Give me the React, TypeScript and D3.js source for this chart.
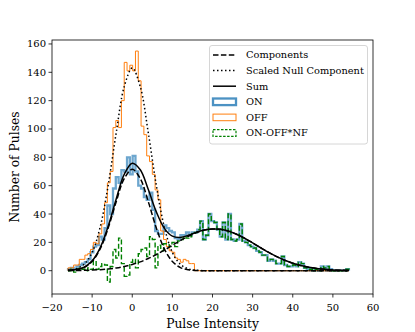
import React from 'react';
import * as d3 from 'd3';

// ---- data ----
const BIN_START = -16;
const BIN_WIDTH = 0.7;

const ON_COUNTS = [
  1, 2, 1, 3, 4, 5, 6, 8, 13, 17,
  18, 24, 22, 30, 46, 40, 58, 66, 62, 71,
  70, 80, 68, 81, 70, 60, 58, 52, 50, 55,
  43, 28, 26, 26, 32, 30, 28, 27, 23, 22,
  25, 25, 27, 25, 27, 27, 29, 35, 22, 25,
  40, 35, 34, 29, 24, 34, 22, 40, 22, 21,
  22, 33, 21, 20, 18, 17, 16, 14, 13, 11,
  11, 7, 8, 7, 5, 5, 10, 4, 3, 3,
  4, 3, 6, 5, 2, 1, 1, 0, 1, 0,
  3, 2, 3, 1, 0, 0, 0, 0, 0, 1,
];

const OFF_COUNTS = [
  2, 2, 4, 4, 8, 8, 11, 12, 15, 20,
  19, 26, 33, 48, 62, 70, 101, 106, 101, 120,
  147, 141, 145, 141, 155, 134, 102, 96, 81, 77,
  68, 57, 50, 28, 22, 17, 14, 13, 9, 8,
  6, 8, 7, 5, 5, 0, 0, 0, 0, 0,
  0, 0, 0, 0, 0, 0, 0, 0, 0, 0,
  0, 0, 0, 0, 0, 0, 0, 0, 0, 0,
  0, 0, 0, 0, 0, 0, 0, 0, 0, 0,
  0, 0, 0, 0, 0, 0, 0, 0, 0, 0,
  0, 0, 0, 0, 0, 0, 0, 0, 0, 0,
];

const DIFF_COUNTS = [
  0, 1, -1, 1, 2, 1, 0, 2, 1, 7,
  1, 3, 5, 4, -8, 3, 15, 9, 23, 5,
  -4, -3, 6, 8, 2, 12, 15, 16, 10, 24,
  22, 2, 18, 14, 19, 19, 17, 20, 17, 21,
  22, 24, 23, 24, 26, 27, 29, 35, 22, 25,
  40, 35, 34, 29, 24, 34, 22, 40, 22, 21,
  22, 33, 21, 20, 18, 17, 16, 14, 13, 11,
  11, 7, 8, 7, 5, 5, 10, 4, 3, 3,
  4, 3, 6, 5, 2, 1, 1, 0, 1, 0,
  3, 2, 3, 1, 0, 0, 0, 0, 0, 1,
];

const CURVE_X = [
  -16, -14, -12, -10, -8, -6, -4, -2, 0, 2, 4, 6, 8, 10, 12, 14, 16, 18,
  20, 22, 24, 26, 28, 30, 32, 34, 36, 38, 40, 42, 44, 46, 48, 50, 52, 54,
];
const NULL_SCALED = [
  0.3, 1.3, 4.5, 12.9, 30.7, 60.2, 97.3, 129.9, 143, 129.9, 97.3, 60.2, 30.7, 12.9, 4.5, 1.3, 0.3, 0,
  0, 0, 0, 0, 0, 0, 0, 0, 0, 0, 0, 0, 0, 0, 0, 0, 0, 0,
];
const COMP_NULL = [
  0.15, 0.65, 2.2, 6.5, 15.4, 30.1, 48.7, 65.0, 71.5, 65.0, 48.7, 30.1, 15.4, 6.5, 2.2, 0.65, 0.15, 0,
  0, 0, 0, 0, 0, 0, 0, 0, 0, 0, 0, 0, 0, 0, 0, 0, 0, 0,
];
const COMP_PULSE = [
  0.07, 0.13, 0.25, 0.43, 0.74, 1.22, 1.94, 2.96, 4.39, 6.25, 8.58, 11.4, 14.5, 17.9, 21.3, 24.3, 26.9, 28.7,
  29.47, 29.2, 27.9, 25.7, 22.9, 19.6, 16.2, 12.9, 9.9, 7.4, 5.3, 3.6, 2.4, 1.55, 0.96, 0.57, 0.33, 0.18,
];

const X_TICKS = [-20, -10, 0, 10, 20, 30, 40, 50, 60];
const Y_TICKS = [0, 20, 40, 60, 80, 100, 120, 140, 160];
const LEGEND_LABELS = ['Components', 'Scaled Null Component', 'Sum', 'ON', 'OFF', 'ON-OFF*NF'];

// ---- layout ----
const W = 415;
const H = 332;
const LEFT = 52;
const RIGHT = 373;
const TOP = 40;
const BOTTOM = 294;
const FONT = '"DejaVu Serif", serif';

const x = d3.scaleLinear().domain([-20, 60]).range([LEFT, RIGHT]);
const y = d3.scaleLinear().domain([-16.45, 162.8]).range([BOTTOM, TOP]);

function stepPoints(counts: number[]): [number, number][] {
  const pts: [number, number][] = [[BIN_START, 0]];
  counts.forEach((c, i) => {
    const x0 = BIN_START + i * BIN_WIDTH;
    pts.push([x0, c], [x0 + BIN_WIDTH, c]);
  });
  pts.push([BIN_START + counts.length * BIN_WIDTH, 0]);
  return pts;
}

const stepLine = d3
  .line<[number, number]>()
  .x((d) => x(d[0]))
  .y((d) => y(d[1]));

const smoothLine = d3
  .line<[number, number]>()
  .x((d) => x(d[0]))
  .y((d) => y(d[1]))
  .curve(d3.curveCatmullRom.alpha(0.5));

const fmt = (v: number) => (v < 0 ? '\u2212' + Math.abs(v) : String(v));

export default function App() {
  const nullPts = CURVE_X.map((xv, i) => [xv, NULL_SCALED[i]] as [number, number]);
  const c1Pts = CURVE_X.map((xv, i) => [xv, COMP_NULL[i]] as [number, number]);
  const c2Pts = CURVE_X.map((xv, i) => [xv, COMP_PULSE[i]] as [number, number]);
  const sumPts = CURVE_X.map((xv, i) => [xv, COMP_NULL[i] + COMP_PULSE[i]] as [number, number]);

  const legX0 = 213;
  const legX1 = 236;
  const rowY = (i: number) => 55 + 15.6 * i;

  return (
    <svg
      width={W}
      height={H}
      style={{ position: 'absolute', left: 0, top: 0, background: '#fff' }}
      fontFamily={FONT}
    >
      <rect x={0} y={0} width={W} height={H} fill="#fff" />
      {/* histograms */}
      <path d={stepLine(stepPoints(ON_COUNTS)) || ''} fill="none" stroke="#1f77b4" strokeWidth={2.3} strokeOpacity={0.65} />
      <path d={stepLine(stepPoints(OFF_COUNTS)) || ''} fill="none" stroke="#ff7f0e" strokeWidth={1} />
      <path d={stepLine(stepPoints(DIFF_COUNTS)) || ''} fill="none" stroke="#008000" strokeWidth={1.4} strokeDasharray="5,2.5" />
      {/* model curves */}
      <path d={smoothLine(c1Pts) || ''} fill="none" stroke="#000" strokeWidth={1.5} strokeDasharray="5.5,2.4" />
      <path d={smoothLine(c2Pts) || ''} fill="none" stroke="#000" strokeWidth={1.5} strokeDasharray="5.5,2.4" />
      <path d={smoothLine(nullPts) || ''} fill="none" stroke="#000" strokeWidth={1.5} strokeDasharray="1.5,2.5" />
      <path d={smoothLine(sumPts) || ''} fill="none" stroke="#000" strokeWidth={1.5} />

      {/* frame */}
      <rect x={LEFT} y={TOP} width={RIGHT - LEFT} height={BOTTOM - TOP} fill="none" stroke="#000" strokeWidth={0.8} />

      {/* x ticks */}
      {X_TICKS.map((t) => (
        <g key={'x' + t}>
          <line x1={x(t)} x2={x(t)} y1={BOTTOM} y2={BOTTOM + 3.5} stroke="#000" strokeWidth={0.8} />
          <text x={x(t)} y={311} fontSize={10} textAnchor="middle" fill="#000">
            {fmt(t)}
          </text>
        </g>
      ))}
      {/* y ticks */}
      {Y_TICKS.map((t) => (
        <g key={'y' + t}>
          <line x1={LEFT - 3.5} x2={LEFT} y1={y(t)} y2={y(t)} stroke="#000" strokeWidth={0.8} />
          <text x={46} y={y(t)} dy="0.35em" fontSize={10} textAnchor="end" fill="#000">
            {fmt(t)}
          </text>
        </g>
      ))}

      {/* axis labels */}
      <text x={(LEFT + RIGHT) / 2} y={327.5} fontSize={12.3} textAnchor="middle" fill="#000">
        Pulse Intensity
      </text>
      <text
        transform={`translate(18.5,${(TOP + BOTTOM) / 2}) rotate(-90)`}
        fontSize={12.3}
        textAnchor="middle"
        fill="#000"
      >
        Number of Pulses
      </text>

      {/* legend */}
      <rect x={209.5} y={45.5} width={158} height={98.5} rx={2.5} fill="#fff" fillOpacity={0.8} stroke="#cccccc" strokeWidth={0.8} />
      <line x1={legX0} x2={legX1} y1={rowY(0)} y2={rowY(0)} stroke="#000" strokeWidth={1.5} strokeDasharray="5.5,2.4" />
      <line x1={legX0} x2={legX1} y1={rowY(1)} y2={rowY(1)} stroke="#000" strokeWidth={1.5} strokeDasharray="1.5,2.5" />
      <line x1={legX0} x2={legX1} y1={rowY(2)} y2={rowY(2)} stroke="#000" strokeWidth={1.5} />
      <rect x={legX0} y={rowY(3) - 3.3} width={legX1 - legX0} height={6.6} fill="none" stroke="#1f77b4" strokeWidth={2.3} strokeOpacity={0.8} />
      <rect x={legX0} y={rowY(4) - 3.3} width={legX1 - legX0} height={6.6} fill="none" stroke="#ff7f0e" strokeWidth={1} />
      <rect x={legX0} y={rowY(5) - 3.3} width={legX1 - legX0} height={6.6} fill="none" stroke="#008000" strokeWidth={1.2} strokeDasharray="2.5,1.5" />
      {LEGEND_LABELS.map((lab, i) => (
        <text key={lab} x={246} y={rowY(i)} dy="0.35em" fontSize={9.8} fill="#000">
          {lab}
        </text>
      ))}
    </svg>
  );
}
